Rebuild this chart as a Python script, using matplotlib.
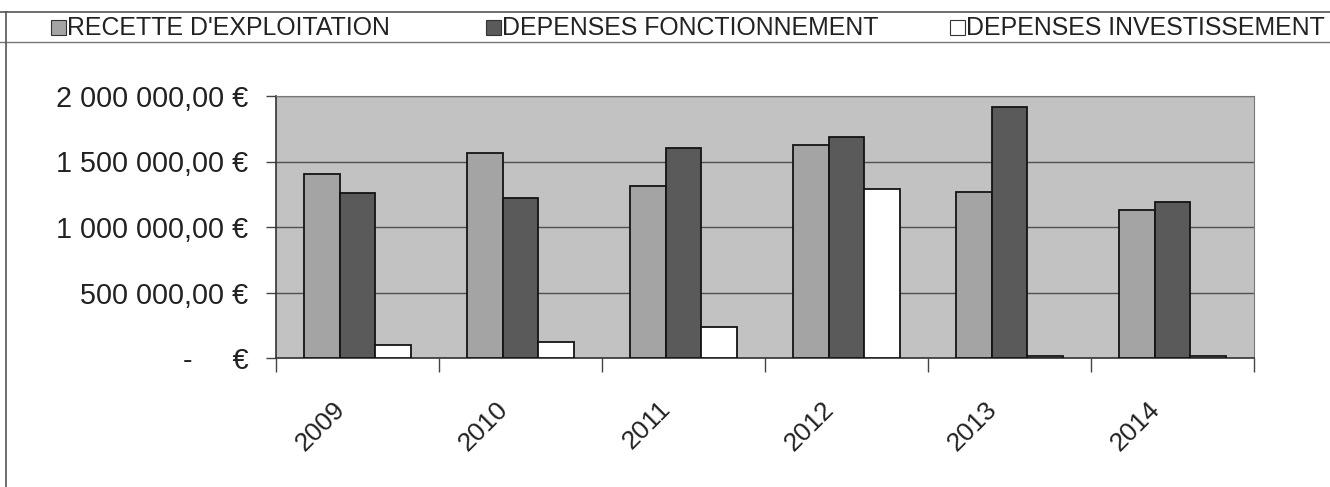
import matplotlib
matplotlib.use("Agg")
import matplotlib.pyplot as plt
from matplotlib.lines import Line2D
from matplotlib.patches import Rectangle
from matplotlib.transforms import ScaledTranslation
import numpy as np

plt.rcParams['font.family'] = ['Liberation Sans', 'DejaVu Sans']

years = ['2009', '2010', '2011', '2012', '2013', '2014']
series_names = ["RECETTE D'EXPLOITATION", "DEPENSES FONCTIONNEMENT", "DEPENSES INVESTISSEMENT"]
recette = [1408000, 1564000, 1314000, 1623000, 1270000, 1128000]
fonctionnement = [1263000, 1222000, 1605000, 1684000, 1913000, 1190000]
investissement = [100000, 120000, 237000, 1289000, 14000, 12000]
y_ticks = [0, 500000, 1000000, 1500000, 2000000]
y_tick_labels = ['-     €', '500 000,00 €', '1 000 000,00 €', '1 500 000,00 €', '2 000 000,00 €']

colors = ['#a4a4a4', '#5a5a5a', '#ffffff']
W, H = 1330, 487
fig = plt.figure(figsize=(W / 100, H / 100), dpi=100)

left, right, top, bottom = 276, 1254, 96, 358
ax = fig.add_axes([left / W, 1 - bottom / H, (right - left) / W, (bottom - top) / H])
ax.set_facecolor('#c2c2c2')

x = np.arange(len(years))
bw = 0.22
for i, (vals, c) in enumerate(zip([recette, fonctionnement, investissement], colors)):
    ax.bar(x + (i - 1) * bw, vals, width=bw, color=c, edgecolor='#141414', linewidth=1.3, zorder=3)

ax.set_xlim(-0.5, len(years) - 0.5)
ax.set_ylim(0, 2000000)
ax.set_yticks(y_ticks)
ax.set_yticklabels(y_tick_labels, fontsize=20.7, color='#222222')
ax.yaxis.grid(True, color='#505050', linewidth=1.0, zorder=1)
ax.set_axisbelow(True)
ax.tick_params(axis='y', length=7, width=1, color='#444444', pad=13)

ax.set_xticks(x)
ax.set_xticklabels(years, fontsize=19, rotation=45, ha='right', va='top',
                   rotation_mode='anchor', color='#222222')
ax.tick_params(axis='x', length=0, pad=28)
shift = ScaledTranslation(-25 / 100, 0, fig.dpi_scale_trans)
for lbl in ax.get_xticklabels():
    lbl.set_transform(lbl.get_transform() + shift)
ax.set_xticks(np.arange(len(years) + 1) - 0.5, minor=True)
ax.tick_params(axis='x', which='minor', length=10, width=1, color='#444444')

for s in ['top', 'right']:
    ax.spines[s].set_color('#777777')
    ax.spines[s].set_linewidth(0.8)
for s in ['left', 'bottom']:
    ax.spines[s].set_color('#333333')
    ax.spines[s].set_linewidth(1.2)

def fx(px):
    return px / W

def fy(py):
    return 1 - py / H

fig.add_artist(Line2D([fx(0), fx(W)], [fy(12), fy(12)], color='#555555', linewidth=1.2))
fig.add_artist(Line2D([fx(0), fx(W)], [fy(42), fy(42)], color='#777777', linewidth=1.0))
fig.add_artist(Line2D([fx(6), fx(6)], [fy(12), fy(H)], color='#555555', linewidth=1.2))

# legend (manual, spread across the top band)
leg_marker_x = [51, 486, 950]
for name, c, lx in zip(series_names, colors, leg_marker_x):
    fig.add_artist(Rectangle((fx(lx), fy(35)), 15 / W, 15 / H, facecolor=c,
                             edgecolor='#333333', linewidth=0.8, transform=fig.transFigure))
    fig.text(fx(lx + 16), fy(28), name, fontsize=17.9, va='center', ha='left', color='#222222')

fig.savefig('out.png', dpi=100)
